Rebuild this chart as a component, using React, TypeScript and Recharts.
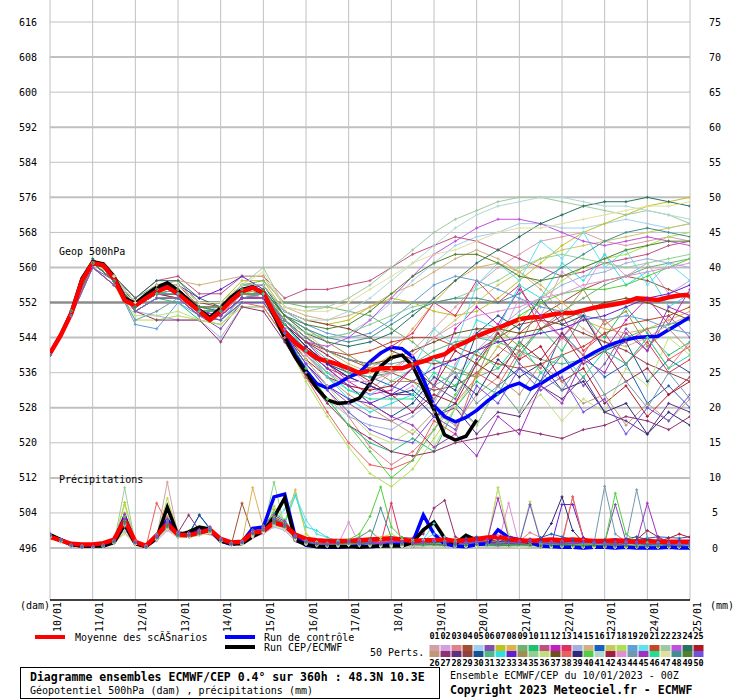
import React from 'react';
import { LineChart, Line, XAxis, YAxis, ReferenceLine } from 'recharts';

const DAY_LABELS = ['10/01','11/01','12/01','13/01','14/01','15/01','16/01','17/01','18/01','19/01','20/01','21/01','22/01','23/01','24/01','25/01'];
const HOUR_TICKS = DAY_LABELS.map((_, i) => i * 24);
const GEOP_TICKS = [496,504,512,520,528,536,544,552,560,568,576,584,592,600,608,616];
const THICK_GEOP = [496,512,528,544,560,576,592,608];
const PRECIP_TICKS = [0,5,10,15,20,25,30,35,40,45,50,55,60,65,70,75];
const MEMBER_NUMS_TOP = ['01','02','03','04','05','06','07','08','09','10','11','12','13','14','15','16','17','18','19','20','21','22','23','24','25'];
const MEMBER_NUMS_BOTTOM = ['26','27','28','29','30','31','32','33','34','35','36','37','38','39','40','41','42','43','44','45','46','47','48','49','50'];
const MEMBER_COLORS = [
  '#d4a0a8','#d0a0e0','#e08088','#a05030','#a0d0f0','#8050b0','#c0c020','#e0b050','#70b070','#20c070',
  '#c05080','#c020c0','#e03060','#a0b0e0','#d0b080','#1860c0','#c8c860','#b0e050','#60a0d8','#60e0f0',
  '#c04828','#a0c8a0','#c050e0','#287060','#b01828','#c09878','#903070','#603080','#904040','#185090',
  '#50b888','#30e0e0','#6020d0','#a09050','#90d090','#c0e080','#705020','#e86060','#302878','#50d040',
  '#b0d8d0','#a02040','#e090d0','#7098b0','#a030c0','#20e090','#e0e0a0','#409090','#508030','#7050e0'
];

// 6-hourly series
const MEAN_GEOP = [540.4,544.5,549.5,557,561,560.5,557.5,552.5,551.3,553,554.5,555.5,554,552,550,548,550,552.5,554.5,555.4,554.2,549.5,545.3,542.8,541,539.3,538.6,537.9,537,535.9,536.5,537,537,537,537.9,538.6,539.5,540.2,542,543,544.3,545.3,546.2,547.2,548.2,548.6,548.7,549.2,549.6,549.6,550.2,550.8,551.2,551.6,552.1,553,552.8,552.6,553.2,553.6,553.8];
const CTRL_GEOP = [540.4,544.6,549.6,557.2,561,560.4,557.5,552.6,551.5,553.3,555,556,554.5,552.3,550.2,548.4,550.5,553,554.8,555.5,554.3,549.5,544.5,540,536.5,533.5,532.5,533.5,535,536,538.5,540.5,541.8,541.5,539.6,534.5,528.5,526,524.8,525.8,527.4,529.5,531.3,532.8,533.6,532.2,533.5,535,536.4,537.8,539.2,540.6,541.8,542.8,543.5,544,544.2,544.3,545.8,547.2,548.7];
const OPER_GEOP = [540.4,544.5,549.8,557.5,561.3,560.8,558,553,551.8,553.8,555.5,556.5,554.8,552.5,550.3,548.6,550.8,553.3,555,555.6,554,549,544,539.5,536,532.5,529.8,529,529.2,530.2,533.5,537.5,539.5,540,537.5,532.5,527.5,521.8,520.6,521.5,525.2];
const MEAN_PRECIP = [1.6,1.1,.6,.5,.5,.7,1.2,4,.9,.3,1.8,3.5,1.9,1.8,2.2,2.6,1.3,.8,.9,2.2,2.4,3.6,3.2,1.9,1.3,1.1,1,1,1,1.1,1.2,1.3,1.4,1.2,1,1.1,1.1,1.2,1,1.1,1.3,1.5,1.6,1.3,1.1,1,1.1,1.2,1.1,1.2,1.1,1,1,1.1,1,.9,1,.9,.9,.9,.9];
const CTRL_PRECIP = [1.7,1.2,.5,.3,.3,.4,1,4.5,.7,.2,1.6,4,2,2,2.8,2.5,1,.5,.8,2.8,3,7.3,7.7,1.5,.4,.2,.1,.1,.2,.3,.2,.3,.5,.5,.8,4.7,2,.6,.3,.2,.5,.6,2.6,1.5,1.2,.8,.3,.2,.1,.1,0,.1,.1,0,.1,0,0,0,.1,0,0];
const OPER_PRECIP = [1.9,1.2,.5,.3,.3,.3,.8,3.3,.6,.2,1.4,5.8,1.8,2.3,3,2.7,1,.6,.6,1.6,2.4,4.4,7.1,1.1,.5,.2,.2,.2,.2,.1,.2,.3,.3,.3,.8,2.6,3.7,1.4,.6,1.8,1.1];

// Members: geopotential every 12 h
const G01 = [540,550,561,558,552,555,555,551,550,555,554,546,540,536,533,532,536,541,546,551,556,560,563,566,567,568,566,565,566,567,566];
const G02 = [540,549,561,557,550,553,553,549,548,553,553,548,544,540,537,533,530,533,529,538,546,543,553,549,559,555,563,558,561,554,557];
const G03 = [540,550,560,556,551,554,553,549,549,554,553,545,538,532,526,519,515,518,523,529,535,542,539,548,544,550,541,538,544,537,543];
const G04 = [540,550,561,557,552,555,556,551,551,555,555,547,543,541,539,537,536,534,532,533,536,540,545,549,552,555,557,558,557,555,553];
const G05 = [540,550,561,558,551,554,554,550,551,556,556,549,546,544,545,548,552,557,561,565,567,568,570,570,569,569,570,571,570,569,570];
const G06 = [540,549,560,557,550,553,553,549,546,552,552,546,539,533,529,526,525,527,533,530,539,545,538,534,540,533,538,546,541,549,544];
const G07 = [540,550,561,558,552,556,556,552,552,557,557,550,548,547,548,551,553,552,550,549,550,553,557,561,565,568,570,572,574,575,576];
const G08 = [540,550,561,557,551,554,555,550,550,554,553,547,542,538,536,537,540,546,552,557,560,561,559,556,552,548,546,545,546,548,550];
const G09 = [540,550,561,558,553,556,557,552,552,556,557,552,551,551,550,549,546,543,539,536,535,537,541,546,550,553,556,558,560,561,562];
const G10 = [540,550,560,556,550,553,552,548,547,552,552,545,537,530,524,520,518,521,518,528,534,531,540,546,541,549,544,551,545,540,543];
const G11 = [540,550,561,558,553,557,558,554,554,558,558,553,555,555,556,557,560,563,565,567,566,564,562,560,558,559,561,562,563,565,566];
const G12 = [540,550,561,557,551,554,554,550,549,553,553,548,543,538,534,531,532,537,533,546,551,547,555,549,544,549,541,548,553,547,555];
const G13 = [540,550,561,557,551,555,555,550,550,555,554,546,541,537,535,538,542,545,552,549,557,552,556,546,549,541,545,538,543,536,539];
const G14 = [540,549,560,556,550,549,548,548,544,551,551,544,536,530,526,524,523,526,530,535,541,546,550,553,556,558,559,561,562,561,560];
const G15 = [540,550,561,558,552,556,557,556,557,558,558,551,549,548,549,551,554,556,559,562,564,562,559,555,550,546,543,542,544,547,549];
const G16 = [540,550,561,557,551,554,554,550,549,553,554,547,542,538,536,535,533,531,526,529,524,533,537,534,545,540,535,538,529,533,528];
const G17 = [540,550,561,557,551,554,554,550,550,554,555,549,545,541,538,536,537,540,544,548,552,556,559,562,564,565,566,567,568,569,570];
const G18 = [540,549,560,556,548,548,549,548,547,551,551,544,534,526,519,513,510,514,521,528,535,542,548,553,557,560,562,563,565,567,568];
const G19 = [540,550,561,557,547,546,552,549,548,553,554,550,547,545,544,545,548,552,556,558,557,555,553,551,550,549,548,549,548,546,545];
const G20 = [540,550,561,557,551,554,554,550,550,555,555,546,540,535,532,531,534,537,546,542,556,561,557,566,562,568,560,564,556,561,557];
const G21 = [540,550,561,557,551,555,555,551,550,554,554,548,544,541,540,541,543,544,544,542,540,538,537,538,540,542,545,547,548,549,551];
const G22 = [540,550,561,558,552,555,556,552,552,556,560,551,550,551,553,556,560,564,568,571,573,575,576,576,575,574,573,572,573,572,570];
const G23 = [540,550,561,557,551,554,555,551,551,555,555,547,543,542,544,548,553,558,563,566,569,571,571,570,568,566,565,566,567,566,565];
const G24 = [540,550,562,558,553,557,557,553,551,556,556,549,545,543,542,543,545,549,553,557,561,564,567,570,572,574,575,575,576,575,574];
const G25 = [540,550,561,557,551,554,553,549,549,553,553,545,539,535,533,532,533,537,533,541,538,545,539,542,534,537,529,533,526,531,534];
const G26 = [540,550,561,557,550,553,553,549,548,552,552,546,540,535,531,528,525,522,527,524,531,535,531,538,534,529,531,524,529,525,530];
const G27 = [540,549,560,556,550,548,548,548,543,551,550,543,535,529,524,521,518,517,518,520,521,522,523,522,521,523,524,526,525,523,526];
const G28 = [540,550,561,557,551,554,554,550,549,553,553,547,542,538,535,533,531,531,526,528,522,527,526,533,530,535,527,525,522,529,527];
const G29 = [540,550,561,558,552,556,556,552,551,555,556,550,548,547,546,544,541,539,538,539,541,544,547,548,547,545,543,541,538,536,534];
const G30 = [540,550,561,557,551,554,554,550,549,553,553,546,541,537,533,529,526,529,535,532,545,549,546,553,547,549,541,543,534,539,536];
const G31 = [540,550,561,557,551,554,555,550,550,554,554,548,543,539,536,535,536,538,541,543,544,543,541,539,538,539,541,544,546,547,548];
const G32 = [540,550,561,557,551,554,554,550,550,554,554,547,541,535,530,527,529,531,539,537,548,546,556,553,561,557,563,556,559,551,554];
const G33 = [540,550,561,557,551,555,556,553,555,558,555,545,538,533,530,529,531,534,537,539,541,543,544,545,546,548,549,551,553,554,556];
const G34 = [540,550,561,557,551,554,554,550,550,554,554,549,546,543,540,537,534,534,530,537,535,546,542,552,549,555,547,550,542,546,541];
const G35 = [540,550,561,557,551,555,555,551,551,555,555,548,545,544,545,547,549,551,552,553,555,557,560,562,563,562,561,560,561,562,563];
const G36 = [540,549,560,556,549,549,550,548,547,552,552,546,539,533,527,522,520,523,519,528,524,533,527,531,525,530,527,537,533,544,540];
const G37 = [540,550,561,557,551,554,554,550,550,554,554,548,544,541,539,538,539,541,543,545,546,546,545,546,548,550,552,553,552,550,548];
const G38 = [540,550,560,556,550,553,553,549,548,552,551,544,535,527,520,515,514,516,525,522,536,533,541,537,544,540,548,543,546,539,542];
const G39 = [540,550,561,557,551,554,554,550,549,553,553,547,542,538,535,533,531,532,528,535,531,539,535,538,532,534,527,529,522,527,524];
const G40 = [540,550,561,557,550,553,553,549,548,552,552,545,537,530,524,518,512,516,523,531,538,544,549,552,554,555,555,556,558,560,562];
const G41 = [540,550,561,558,552,555,556,552,552,556,556,550,548,548,550,553,557,561,565,569,572,574,575,576,576,575,574,574,573,572,571];
const G42 = [540,550,561,557,551,554,554,550,550,554,554,547,543,540,537,534,531,527,531,529,538,535,543,539,545,538,541,534,537,531,535];
const G43 = [540,550,561,557,551,554,554,550,549,553,553,546,540,536,534,534,536,540,544,547,549,550,551,553,554,556,557,558,559,560,561];
const G44 = [540,550,561,557,548,550,553,549,549,553,554,548,544,541,539,538,538,539,533,536,529,533,527,536,532,539,531,534,528,536,530];
const G45 = [540,550,561,557,551,554,554,550,549,553,553,546,541,537,533,529,526,524,519,522,517,526,522,533,529,539,536,545,541,551,549];
const G46 = [540,550,561,557,551,554,554,550,550,554,554,547,541,536,532,530,530,530,536,533,541,537,543,536,540,535,541,538,544,537,540];
const G47 = [540,550,561,558,552,556,556,552,552,556,559,551,550,550,552,555,558,561,563,564,566,568,569,569,570,571,572,573,574,574,575];
const G48 = [540,550,561,557,551,555,555,551,550,555,555,549,546,544,543,544,547,550,552,553,553,552,554,557,560,563,566,568,569,568,567];
const G49 = [540,550,561,557,551,555,555,551,551,555,555,549,547,546,547,550,554,558,561,563,563,561,558,557,558,560,562,564,565,566,566];
const G50 = [540,549,560,556,550,553,553,549,548,552,552,545,538,532,527,523,521,520,526,523,533,529,537,532,535,527,530,522,528,525,531];

// Members: precipitation every 6 h
const P01 = [2,1.2,.4,.2,.2,.3,.9,3.5,.7,.2,1.5,9.4,1.8,1.5,2,2.4,1,.5,.8,2,2.5,3.5,3,1.5,.8,.5,.4,.6,1,.8,.5,.3,.4,.6,.5,.3,.2,.3,.5,.4,.6,.8,.5,.3,.2,.2,.4,.6,.3,.2,.2,.3,.2,.1,.2,.3,.2,.1,.1,.2,.2];
const P02 = [1.8,1,.3,.2,.1,.3,.8,4.5,.6,.1,1,2.5,1.5,2,2.5,3,1.2,.6,.5,1.5,2,3,2.5,1,.5,.3,.2,.3,.5,1.5,2.5,1.2,.5,.3,.2,.5,1,.6,.3,.2,.2,.5,1.8,.8,.3,.2,.1,.3,.5,.2,.1,.1,.2,.4,.6,.3,.2,.2,.1,.1,.1];
const P03 = [2,1.1,.5,.3,.2,.4,1,5,.9,.3,2,4.5,2.2,1.8,2.2,2.5,1.1,.7,1,2.5,3,4,3.5,1.5,.7,.4,.3,.5,.8,1.2,1,.6,.4,.3,.5,1,.8,.5,.4,.3,.5,.8,.6,.4,1,2.2,1.5,.7,.6,7.3,1.5,.5,.3,.4,.3,.5,.8,.4,.3,.2,.3];
const P04 = [1.6,1,.3,.2,.2,.3,.7,3,.5,.1,1.2,3,1.5,1.5,2,2,1,.5,6.4,2,2.5,3.5,3,1.5,.8,.5,.4,.3,.5,.8,1,.6,.4,.3,.2,.2,.3,.4,.3,.2,.3,.5,.4,.3,.4,.3,.2,.4,.5,.3,.2,.3,.2,.2,.1,.2,.3,.2,.2,.1,.2];
const P05 = [1.5,.9,.3,.2,.2,.3,.8,2.5,.6,.2,1.4,2.6,1.6,1.6,1.8,2.2,1,.4,.5,1.6,2.2,3,2.6,1.2,.6,.4,.3,.3,.4,.5,.4,.3,.2,.3,.4,.3,.2,.2,.3,.2,.2,.3,.4,.3,.2,.2,.3,.2,.2,.3,.2,.1,.2,.2,.1,.1,.2,.1,.1,.1,.1];
const P06 = [1.9,1.2,.4,.2,.2,.4,1,4.2,.8,.2,1.6,3.8,2,2,2.5,2.8,1.3,.6,.7,2.2,2.8,4,3.2,1.6,.9,.6,.5,.8,1.2,1,.8,.6,.9,1.5,1,.8,.6,1,.7,.5,.8,1,.7,.5,.6,.8,.6,.5,1,.8,.6,.5,.8,6.2,1,.5,.4,.3,.5,.4,.3];
const P07 = [1.7,1,.3,.2,.2,.3,.8,6.5,.8,.2,1.3,3.2,1.8,1.6,2,2.3,1,.5,.6,1.8,2.4,5.5,3,1.4,.7,.5,.3,.4,.6,.8,.5,.4,.3,.5,.6,.4,.3,.2,.3,.4,.6,1.2,.8,.5,.3,.4,.5,.3,.2,.3,.4,.5,.3,.2,.3,.2,.3,.2,.2,.2,.2];
const P08 = [1.8,1.1,.4,.2,.2,.3,.9,3.8,.7,.2,1.5,3.4,1.9,1.8,2.2,2.6,1.2,.6,.8,8.6,3,4.5,3.5,8.3,2,.8,.5,.4,.6,.5,.4,.6,.8,.5,.3,.4,.6,.5,.3,.2,.3,.4,.5,.3,.2,.4,.5,.3,.2,.1,.2,.3,.2,.1,.2,.2,.1,.1,.2,.1,.1];
const P09 = [1.6,1,.3,.2,.2,.3,.8,3.4,.6,.2,1.4,3,1.7,1.7,2,2.4,1,.5,.7,2,2.6,3.6,3,1.4,.8,.5,.4,.6,1,1.6,2.5,1,.5,.4,.5,.6,.4,.3,.5,.4,.3,.2,.3,.5,.4,.3,.2,.3,.4,.3,.2,.2,.3,.2,.2,.2,.1,.2,.2,.1,.2];
const P10 = [2.1,1.3,.5,.3,.2,.4,1.1,4.8,.9,.3,2,4.2,2.3,2.2,2.6,3,1.4,.7,.9,2.6,3.2,5,4,1.8,1,.6,.5,.7,.9,.7,.5,.4,.3,.2,.3,.4,.5,.4,.3,.2,.3,.4,.3,.2,.3,.2,.2,.3,.2,.2,.1,.2,.1,.1,.2,.1,.1,.1,.1,.1,.1];
const P11 = [1.7,1,.4,.2,.2,.3,.9,3.6,.7,.2,1.5,3.1,1.8,1.7,2.1,2.5,1.1,.6,.8,2.1,2.7,3.8,3.2,1.6,.9,.6,.5,.4,.5,.6,.4,.3,.4,.3,.2,.3,.4,.3,.2,.3,.4,.3,.2,.3,.4,.3,.2,.2,.3,.2,.2,.3,.2,.1,.2,.2,.2,.1,.1,.2,.2];
const P12 = [1.9,1.1,.4,.2,.2,.4,1,4,.8,.2,1.6,3.5,2,1.9,2.3,2.6,1.2,.6,.8,2.2,2.8,4.2,3.4,1.7,.9,.5,.4,.6,.8,1,.7,.5,.4,.6,.8,1.2,.9,.6,.5,.4,.6,.5,.7,.4,.3,.5,.4,.3,.5,.6,.4,.3,.5,.4,.6,.5,.4,.3,.3,.2,.3];
const P13 = [1.6,1,.3,.2,.2,.3,.8,3.3,.6,.2,1.3,2.9,1.6,1.6,2,2.3,1,.5,.6,1.9,2.5,3.4,2.9,1.3,.7,.4,.3,.4,.6,.5,.4,.6,6.4,.5,.4,.3,.5,.4,.3,.2,.3,.4,.3,.5,.4,.3,.2,.3,.4,.3,.3,.2,.2,.3,.2,.2,.1,.2,.2,.1,.1];
const P14 = [1.8,1.1,.4,.2,.2,.4,.9,3.9,.8,.2,1.5,3.3,1.9,1.8,2.2,2.5,1.1,.6,.8,2.1,2.7,3.9,3.3,1.6,.9,.6,.5,.6,.8,.7,.6,.5,.6,.4,.5,.4,.3,.4,.5,.4,.3,.4,.3,.4,.5,.4,.3,.4,.3,.2,.3,.2,.3,.2,.2,.3,.2,.2,.1,.2,.2];
const P15 = [1.5,.9,.3,.2,.1,.3,.7,2.2,.5,.2,1.2,2.7,1.5,1.5,1.9,2.1,.9,.4,.6,1.7,2.2,3.2,2.8,1.2,.6,.4,.3,.5,.7,.6,.4,.3,.5,.4,.3,.4,.3,.2,.4,.5,.4,.3,.2,.3,.2,.3,.2,.2,.3,.2,.2,.1,.2,.2,.1,.2,.1,.1,.1,.1,.1];
const P16 = [1.9,1.2,.4,.2,.2,.4,1,4.3,.8,.2,1.7,3.7,2.1,2,4.7,2.8,1.3,.7,.9,2.3,2.9,4.3,3.5,1.7,1,.6,.5,.7,1,.9,.8,.6,.5,.7,.9,.7,.6,.8,1,1.4,1.6,1.2,.9,.7,.6,.8,1.5,2,1.6,1.2,.8,.6,.5,.7,.9,1.2,1.4,1.6,1.5,1.4,1.6];
const P17 = [1.7,1,.3,.2,.2,.3,.8,3.6,.7,.2,1.4,3,1.7,1.7,2,2.4,1,.5,.7,2,2.5,3.6,3,1.4,.8,.5,.4,.5,.7,.6,.5,.4,.3,.4,.5,.4,.3,.4,.3,.4,.5,.4,.3,.2,.3,.4,.3,.2,.3,.2,.2,.2,.1,.2,.2,.1,.2,.1,.1,.1,.1];
const P18 = [2,1.2,.4,.2,.2,.4,1,6.2,1,.3,1.8,7.1,2.2,2.1,2.5,2.9,1.3,.7,.9,2.4,3,6,3.8,7.8,2,.9,.7,1,1.3,1.1,1,1.5,2,1.2,.8,.6,.5,.7,.9,.6,.5,.7,8.6,1.5,.8,6.6,1,.6,.5,.4,.6,.5,.4,.3,.5,.4,.3,.2,.3,.2,.3];
const P19 = [1.6,.9,.3,.2,.2,.3,.8,3.2,.6,.2,1.3,2.8,1.6,1.5,1.9,2.2,1,.5,.6,1.8,2.4,3.3,2.8,1.3,.7,.4,.3,.4,.6,.5,.4,.3,.4,.5,.4,.3,.4,.3,.2,.3,.2,.3,.4,.3,.2,.3,.4,.3,.2,.2,.3,.2,.2,.3,.2,.2,.2,.1,.2,.1,.2];
const P20 = [1.8,1.1,.4,.2,.2,.4,.9,3.8,.7,.2,1.5,3.2,1.9,1.8,2.2,2.5,1.1,.6,.8,2.1,2.7,3.8,5.5,7.5,4,2,1.5,1,.8,.7,.6,.5,.7,.9,1.2,1.1,2,1.6,.8,.6,.5,.6,.5,.4,.3,.4,.6,.4,.3,.2,.3,.2,.3,.2,.2,.3,.2,.1,.2,.1,.1];
const P21 = [1.7,1,.3,.2,.2,.3,.8,3.5,.6,.2,1.4,3,1.7,1.6,2,2.3,1,.5,.7,2,2.5,3.5,3,1.5,.8,.5,.4,.5,.6,.5,.4,.3,.5,.4,.3,.5,.4,.3,.4,.3,.4,.5,.4,.3,.5,.4,.3,.4,.3,.5,.4,.5,.6,.4,.3,.5,.7,1.2,.8,.6,.5];
const P22 = [1.6,1,.3,.2,.2,.3,.7,8.6,.6,.2,1.3,2.8,1.6,1.6,1.9,2.2,1,.5,.6,1.8,2.3,3.3,2.8,1.3,.6,.4,.3,.3,.4,.5,.4,.3,.2,.3,.2,.3,.4,.3,.2,.2,.3,.2,.2,.3,.2,.2,.3,.2,.2,.2,.1,.2,.1,.1,.1,.2,.1,.1,.1,.1,.1];
const P23 = [1.8,1.1,.4,.2,.2,.4,.9,3.9,.8,.2,1.5,3.4,2,1.8,2.3,2.6,1.2,.6,.8,2.2,2.7,4,3.3,1.6,.9,.6,.5,.6,.7,.6,.5,.4,.5,.6,.5,.4,.3,.4,.5,.4,.3,.4,.5,.4,.3,.2,.3,.4,.3,.2,.2,.3,.2,.2,.2,.1,.2,.2,.1,.1,.1];
const P24 = [1.7,1,.3,.2,.2,.3,.8,3.4,.7,.2,1.4,3.1,1.8,1.7,2.1,2.4,1,.5,.7,2,2.5,3.6,3.1,1.5,.8,.5,.4,.5,.6,.7,.9,.6,.5,.4,.3,.4,.5,.6,.4,.3,.4,.5,.4,.3,.2,.3,.4,.3,.2,.3,.5,.7,1,.6,.4,.3,.2,.3,.2,.2,.2];
const P25 = [1.9,1.2,.4,.2,.2,.4,1,4.1,.8,.2,1.6,3.6,2,1.9,2.4,2.7,1.2,.6,.8,2.2,2.8,4.1,3.4,1.7,.9,.6,.5,.7,.9,.8,.7,.6,.8,1.1,.9,.7,.6,.8,.7,.6,.9,1.2,.8,.6,.7,.9,.7,.6,.8,.7,.6,.9,1.2,.8,.6,.5,.7,.9,1.4,2,1.5];
const P26 = [1.6,1,.3,.2,.2,.3,.8,3.3,.6,.2,1.3,2.9,1.7,1.6,1.9,2.3,1,.5,.6,1.9,2.4,3.4,2.9,1.4,.7,.4,.3,.5,.7,.9,1.1,.8,.6,.7,.9,1.2,.9,.7,.6,.8,.9,.7,.6,.8,.7,.6,.5,.7,.6,.5,.6,.7,.5,.4,.6,.5,.4,.3,.5,.4,.3];
const P27 = [2,1.2,.5,.3,.2,.4,1,4.6,.9,.3,1.8,3.9,2.2,4.7,2.5,2.9,1.3,.7,.9,2.4,3,4.4,3.6,1.8,1,.7,.6,.8,1.1,1.3,1,.8,1.2,1.5,1.4,2,5.7,6.8,1.6,.9,1.1,.9,1.2,.9,.8,1.1,.9,.8,1,.9,.7,.8,1,.9,.8,.7,.9,.8,.7,.6,.7];
const P28 = [1.8,1.1,.4,.2,.2,.4,.9,3.9,.7,.2,1.5,3.3,1.9,1.8,2.2,2.6,1.2,.6,.8,2.1,2.7,3.9,3.3,1.6,.9,.6,.5,.7,.9,.8,.7,.6,.8,.9,.7,.9,1.1,.8,.7,.9,1.2,.9,.7,.8,1,1.3,1.1,.9,.8,1,.9,.8,1,1.2,.9,.8,.7,.9,.8,.7,.8];
const P29 = [1.7,1.1,.4,.2,.2,.3,.9,3.7,.7,.2,1.5,3.2,1.8,1.7,2.1,2.5,1.1,.6,.7,2,2.6,3.7,3.1,1.5,.8,.5,.4,.6,.8,.7,.6,.5,.6,.7,.6,.5,.4,.6,.5,.4,.5,.6,.5,.4,.5,.4,.3,.4,.5,.4,.3,.4,.3,.4,.3,.2,.3,.4,.3,.2,.3];
const P30 = [1.9,1.2,.4,.2,.2,.4,1,4.4,.8,.2,1.6,3.6,2.1,1.9,4.7,2.7,1.2,.6,.8,2.3,2.9,4.2,3.5,1.7,1,.6,.5,.7,1,.9,.8,.7,.9,1.1,.8,.7,.9,.8,.6,.7,.8,.7,.9,1,.8,.7,.6,.8,.7,.9,1.2,1,.8,.9,1.3,1.6,1.2,1,.9,1.1,1];
const P31 = [1.7,1,.3,.2,.2,.3,.8,3.5,.7,.2,1.4,3.1,1.8,1.7,2.1,2.4,1.1,.5,.7,2,2.6,3.6,3.1,1.5,.8,.5,.4,.5,.7,.6,.5,.6,.5,.4,.6,.5,.4,.5,.6,.5,.4,.5,.4,.3,.4,.5,.4,.3,.4,.3,.3,.4,.3,.2,.3,.2,.3,.2,.2,.2,.2];
const P32 = [1.8,1.1,.4,.2,.2,.4,.9,3.8,.8,.2,1.5,3.4,1.9,1.8,2.2,2.6,1.2,.6,.8,2.2,2.8,4,3.4,7.5,3,2.5,1.5,1,.8,.7,.6,.5,.7,.6,.5,1.2,3.5,1,.6,.5,.4,.5,.6,.4,.3,.4,.3,.4,.3,.2,.3,.2,.3,.2,.2,.2,.1,.2,.2,.1,.1];
const P33 = [1.9,1.2,.4,.2,.2,.4,1,4.2,.8,.2,1.6,3.5,2,1.9,2.3,2.7,1.2,.6,.8,2.2,2.8,4.1,3.4,1.7,.9,.6,.5,.7,.9,.8,.7,.6,.7,.8,.6,.7,.8,.6,.5,.6,.7,.8,.6,.5,.6,.7,.6,.5,6.2,6.2,1.5,.8,.6,.5,.4,.5,.4,.3,.4,.3,.3];
const P34 = [1.6,1,.3,.2,.2,.3,.8,3.3,.6,.2,1.3,2.9,1.6,1.6,2,2.3,1,.5,.6,1.9,2.4,3.4,2.9,1.4,.7,.4,.3,.4,.6,.5,.4,.5,.4,.3,.4,.3,.4,.3,.2,.3,.4,.3,.4,.3,.2,.3,.4,.3,.2,.3,.2,.3,.2,.2,.1,.2,.2,.1,.2,.1,.1];
const P35 = [1.7,1,.3,.2,.2,.3,.8,3.4,.7,.2,1.4,3,1.7,1.7,2,2.4,1,.5,.7,2,2.5,9.4,3,1.4,.8,.5,.4,.5,.6,.5,.4,.3,.4,.5,.4,.3,.4,.3,.4,.3,.2,.3,.4,.3,.2,.3,.2,.3,.2,.2,.2,.3,.2,.1,.2,.2,.1,.1,.2,.1,.1];
const P36 = [2,1.2,.5,.3,.2,.4,1,4.7,.9,.3,1.8,4,2.2,2.1,2.5,2.9,1.3,.7,.9,2.4,3,4.6,3.7,1.8,1,.7,.6,.8,1.1,.9,.8,.7,.9,1.2,.9,.8,1,.9,.8,.7,.9,1.1,8.6,2,.9,.8,.7,.9,.8,.7,.6,.8,.7,.6,.5,.6,.5,.4,.5,.4,.4];
const P37 = [1.8,1.1,.4,.2,.2,.4,.9,3.9,.8,.2,1.5,3.3,1.9,1.8,2.2,2.6,1.1,.6,.8,2.1,2.7,3.9,3.3,1.6,.9,.5,.4,.6,.8,.7,.6,.5,.6,.7,.6,.5,.6,.5,.4,.5,.6,.5,.4,.5,.6,.5,.4,.3,.4,.5,.4,.3,.4,.3,.2,.3,.2,.3,.2,.2,.2];
const P38 = [1.9,1.2,.4,.2,.2,.4,1,4.3,.8,.2,6.4,3.6,2,1.9,2.4,2.7,1.2,.6,.8,2.2,2.8,4.2,3.5,1.7,1,.6,.5,.7,1,1.2,.9,.8,1,.9,.8,1,1.2,.9,.7,.8,.9,1,.8,.7,.9,1.1,.9,.8,1,7.3,1.2,.8,.7,.9,.8,.7,.6,.8,.7,.6,.7];
const P39 = [1.8,1.1,.4,.2,.2,.4,.9,3.8,.7,.2,1.5,3.3,1.9,1.8,2.2,2.5,1.1,.6,.8,2.1,2.7,3.9,3.3,1.6,.9,.6,.5,.6,.8,.7,.6,.5,.7,.8,.6,.5,.7,.6,.5,.7,.6,.8,.7,.6,.8,.9,1.1,3.5,7.3,2.5,.8,.7,.6,.5,.6,.7,.5,.4,.5,.4,.5];
const P40 = [1.9,1.2,.4,.2,.2,.4,1,4.4,.8,.2,1.6,3.7,2.1,2,2.4,2.8,1.2,.6,.8,2.3,2.9,4.3,3.5,1.7,1,.7,.6,.8,1.2,2,4.5,8.7,3,1.5,1,.8,.7,.9,1.1,.8,.7,.9,.8,.7,.9,.8,.7,.8,.9,.7,.6,.8,.7,7.8,2,.9,.8,.7,.8,.6,.7];
const P41 = [1.6,1,.3,.2,.2,.3,.7,3.2,.6,.2,1.3,2.8,1.6,1.5,1.9,2.2,1,.5,.6,1.8,2.3,3.3,2.8,1.3,.7,.4,.3,.4,.5,.4,.3,.4,.3,.2,.3,.4,.3,.2,.3,.2,.3,.2,.2,.3,.2,.2,.3,.2,.2,.1,.2,.1,.2,.1,.1,.2,.1,.1,.1,.1,.1];
const P42 = [1.8,1.1,.4,.2,.2,.4,.9,3.9,.8,.2,1.5,3.3,1.9,1.8,2.2,2.6,1.2,.6,.8,2.2,2.7,3.9,3.3,1.6,.9,.6,.5,.7,.9,.8,.7,.6,.8,.9,.7,.6,.8,.7,.6,.7,.8,.9,.7,.6,.8,.7,.6,.7,.8,.6,.7,.8,.7,.6,.9,1.2,2.5,1.6,.8,.7,.6];
const P43 = [1.7,1,.3,.2,.2,.3,.8,3.6,.7,.2,1.4,3.1,1.8,1.7,2.1,2.4,1.1,.5,.7,2,2.6,3.6,3.1,1.5,.8,.5,.4,.5,3.7,.6,.5,.6,.5,.4,.5,.6,.5,.4,.5,.4,.5,.4,.6,6.4,.4,.3,.4,.5,.4,.3,.4,.3,.4,.3,.2,.3,.2,.3,.2,.2,.2];
const P44 = [1.6,1,.3,.2,.2,.3,.8,3.3,.6,.2,1.3,2.9,1.6,1.6,2,2.3,1,.5,.6,1.9,2.4,3.4,2.9,1.4,.7,.4,.3,.4,.6,.5,.4,.5,.6,.5,.4,.5,.6,.5,.4,.5,.6,.5,.4,.5,.6,.5,.4,.5,.4,.5,.6,.7,8.8,2,.9,8.3,1.5,.8,.7,.6,.5];
const P45 = [2,1.2,.5,.3,.2,.4,1,4.8,.9,.3,1.8,4.1,2.3,2.2,2.6,3,1.3,.7,.9,2.5,3.1,4.7,3.8,1.8,1,.7,.6,.8,1.1,1,.8,.7,.9,1,.8,.9,1.1,.9,.8,.9,1,1.2,7.1,1.5,.9,1,.8,.9,1,.8,.9,1,.8,.9,1.1,.9,6.4,1.4,.9,.8,.9];
const P46 = [1.8,1.1,.4,.2,.2,.4,.9,3.9,.7,.2,1.5,3.4,1.9,1.8,2.2,2.6,1.2,.6,.8,2.2,2.7,4,3.3,1.6,.9,.6,.5,.6,.8,.7,.6,.5,.6,.7,.6,.5,.6,.7,.6,.5,.6,.5,.6,.5,.4,.5,.6,.5,.4,.5,.4,.5,.6,.5,.4,.3,.4,.3,.3,.2,.3];
const P47 = [1.6,.9,.3,.2,.1,.3,.7,2,.5,.2,1.2,2.7,1.5,1.5,1.8,2.1,.9,.4,.5,1.7,2.2,3.2,2.7,1.2,.6,.4,.3,.3,.4,.3,.3,.2,.3,.2,.3,.2,.2,.3,.2,.2,.2,.3,.2,.2,.1,.2,.2,.1,.2,.1,.1,.1,.2,.1,.1,.1,.1,.1,.1,.1,.1];
const P48 = [1.7,1,.3,.2,.2,.3,.8,3.5,.7,.2,1.4,3,1.7,1.7,2,2.4,1,.5,.7,2,2.5,3.5,3,1.5,.8,.5,.4,.5,.6,.5,1.2,5.7,1.5,.6,.5,.4,.5,.4,.3,.4,.5,.4,.3,.4,.5,.4,.3,.4,.3,.4,.3,.4,.3,.2,.3,.2,.2,.3,.2,.2,.2];
const P49 = [1.8,1.1,.4,.2,.2,.4,.9,3.7,.7,.2,1.5,3.2,1.8,1.8,2.1,2.5,1.1,.6,.8,2.1,2.6,3.7,3.1,1.5,.8,.5,.4,.6,.8,.7,.6,.5,.7,.6,.5,.6,.5,.4,.5,.4,.5,.6,.5,.4,.5,.4,.3,.4,.5,.4,.3,.4,.3,.4,.3,.2,.3,.2,.3,.2,.2];
const P50 = [1.9,1.2,.4,.2,.2,.4,1,4.1,.8,.2,1.6,3.6,2,1.9,2.3,2.7,1.2,.6,.8,2.2,2.8,4.1,3.4,1.7,.9,.6,.5,.7,.9,.8,.7,.6,.8,.7,.6,.8,.9,.7,.6,.7,.8,.7,.6,.8,.7,6.2,.9,.7,.6,.7,.8,.7,.6,.5,.6,.7,.5,.6,.5,.4,.5];

const GEOP_MEMBERS = [G01,G02,G03,G04,G05,G06,G07,G08,G09,G10,G11,G12,G13,G14,G15,G16,G17,G18,G19,G20,G21,G22,G23,G24,G25,G26,G27,G28,G29,G30,G31,G32,G33,G34,G35,G36,G37,G38,G39,G40,G41,G42,G43,G44,G45,G46,G47,G48,G49,G50];
const PRECIP_MEMBERS = [P01,P02,P03,P04,P05,P06,P07,P08,P09,P10,P11,P12,P13,P14,P15,P16,P17,P18,P19,P20,P21,P22,P23,P24,P25,P26,P27,P28,P29,P30,P31,P32,P33,P34,P35,P36,P37,P38,P39,P40,P41,P42,P43,P44,P45,P46,P47,P48,P49,P50];

const toSeries = (arr: number[], step: number) => arr.map((v, i) => ({ h: i * step, v }));

const FONT = '"DejaVu Sans Mono", "Liberation Mono", monospace';

const makeDot = (color: string) => (p: any) => {
  const { cx, cy, index } = p;
  if (cx == null || cy == null || isNaN(cx) || isNaN(cy)) return <g key={`e${index}`} />;
  return <path key={`d${index}`} d={`M${cx - 1.5},${cy}h3M${cx},${cy - 1.5}v3`} stroke={color} strokeWidth={1} fill="none" />;
};

const LeftTick = (p: any) => (
  <text x={37} y={p.y + 3.5} textAnchor="end" fontFamily={FONT} fontSize={10} fill="#000">{p.payload.value}</text>
);
const RightTick = (p: any) => (
  <text x={715} y={p.y + 3.5} textAnchor="middle" fontFamily={FONT} fontSize={10} fill="#000">{p.payload.value}</text>
);
const XTick = (p: any) => {
  const idx = Math.round(p.payload.value / 24);
  return (
    <text transform={`translate(${p.x + 7},602) rotate(-90)`} textAnchor="end" dominantBaseline="central" fontFamily={FONT} fontSize={10} fill="#000">
      {DAY_LABELS[idx]}
    </text>
  );
};

export default function App() {
  return (
    <div style={{ position: 'absolute', left: 0, top: 0, width: 740, height: 700, background: '#fff', overflow: 'hidden' }}>
      <LineChart width={740} height={640} margin={{ top: 0, right: 0, bottom: 0, left: 0 }}>
        <XAxis dataKey="h" type="number" domain={[0, 360]} ticks={HOUR_TICKS} interval={0} allowDataOverflow
          tickLine={false} axisLine={{ stroke: '#000', strokeWidth: 1.5 }} height={40} tick={XTick} />
        <YAxis yAxisId="g" orientation="left" type="number" width={50} domain={[484.14, 621.02]} ticks={GEOP_TICKS}
          interval={0} allowDataOverflow axisLine={false} tickLine={false} tick={LeftTick} />
        <YAxis yAxisId="p" orientation="right" type="number" width={50} domain={[-7.41, 78.14]} ticks={PRECIP_TICKS}
          interval={0} allowDataOverflow axisLine={false} tickLine={false} tick={RightTick} />

        {HOUR_TICKS.map((h) => (
          <ReferenceLine key={`vx${h}`} yAxisId="g" x={h} stroke="#c0c0c0" strokeWidth={1} />
        ))}
        {GEOP_TICKS.filter((t) => t !== 552).map((t) => (
          <ReferenceLine key={`hy${t}`} yAxisId="g" y={t} stroke="#c0c0c0" strokeWidth={THICK_GEOP.includes(t) ? 2 : 1} />
        ))}
        <ReferenceLine yAxisId="g" y={552} stroke="#8c8c8c" strokeWidth={2.5} />

        {GEOP_MEMBERS.map((arr, i) => (
          <Line key={`g${i}`} yAxisId="g" data={toSeries(arr, 12)} dataKey="v" type="linear" stroke={MEMBER_COLORS[i]}
            strokeWidth={1} dot={makeDot(MEMBER_COLORS[i])} activeDot={false} isAnimationActive={false} />
        ))}
        {PRECIP_MEMBERS.map((arr, i) => (
          <Line key={`p${i}`} yAxisId="p" data={toSeries(arr, 6)} dataKey="v" type="linear" stroke={MEMBER_COLORS[i]}
            strokeWidth={1} dot={makeDot(MEMBER_COLORS[i])} activeDot={false} isAnimationActive={false} />
        ))}

        <Line yAxisId="g" data={toSeries(CTRL_GEOP, 6)} dataKey="v" type="linear" stroke="#0000ff" strokeWidth={3.5} dot={false} activeDot={false} isAnimationActive={false} />
        <Line yAxisId="p" data={toSeries(CTRL_PRECIP, 6)} dataKey="v" type="linear" stroke="#0000ff" strokeWidth={3.5} dot={false} activeDot={false} isAnimationActive={false} />
        <Line yAxisId="g" data={toSeries(OPER_GEOP, 6)} dataKey="v" type="linear" stroke="#000000" strokeWidth={3.5} dot={false} activeDot={false} isAnimationActive={false} />
        <Line yAxisId="p" data={toSeries(OPER_PRECIP, 6)} dataKey="v" type="linear" stroke="#000000" strokeWidth={3.5} dot={false} activeDot={false} isAnimationActive={false} />
        <Line yAxisId="g" data={toSeries(MEAN_GEOP, 6)} dataKey="v" type="linear" stroke="#ff0000" strokeWidth={4.5} dot={false} activeDot={false} isAnimationActive={false} />
        <Line yAxisId="p" data={toSeries(MEAN_PRECIP, 6)} dataKey="v" type="linear" stroke="#ff0000" strokeWidth={4.5} dot={false} activeDot={false} isAnimationActive={false} />
      </LineChart>

      <svg width={740} height={700} style={{ position: 'absolute', left: 0, top: 0, pointerEvents: 'none' }}>
        <g fontFamily={FONT} fontSize={10} fill="#000">
          <text x={59} y={254.5}>Geop 500hPa</text>
          <text x={59} y={483}>Précipitations</text>
          <text x={20} y={609}>(dam)</text>
          <text x={710} y={609}>(mm)</text>

          <rect x={35} y={635} width={30} height={4} fill="#ff0000" />
          <text x={75} y={640.5}>Moyenne des scĂŠnarios</text>
          <rect x={225} y={635} width={30} height={4} fill="#0000ff" />
          <text x={264} y={640.5}>Run de contrôle</text>
          <rect x={225} y={645} width={30} height={4} fill="#000000" />
          <text x={264} y={650.5}>Run CEP/ECMWF</text>
          <text x={370} y={656}>50 Perts.</text>
        </g>
        <g fontFamily={FONT} fontSize={8.5} fontWeight="bold" fill="#000" textAnchor="middle">
          {MEMBER_NUMS_TOP.map((n, i) => (
            <text key={`nt${n}`} x={434.5 + i * 11} y={638.5}>{n}</text>
          ))}
          {MEMBER_NUMS_BOTTOM.map((n, i) => (
            <text key={`nb${n}`} x={434.5 + i * 11} y={665.5}>{n}</text>
          ))}
        </g>
        {MEMBER_COLORS.map((c, i) => (
          <rect key={`sw${i}`} x={429.5 + (i % 25) * 11} y={i < 25 ? 645 : 651} width={10} height={6} fill={c} />
        ))}

        <rect x={20.5} y={667.5} width={419} height={31} fill="none" stroke="#000" strokeWidth={1} />
        <text x={30} y={681} fontFamily={FONT} fontSize={11.5} fontWeight="bold" fill="#000">Diagramme ensembles ECMWF/CEP 0.4° sur 360h : 48.3N 10.3E</text>
        <text x={30} y={694} fontFamily={FONT} fontSize={10} fill="#000">Géopotentiel 500hPa (dam) , précipitations (mm)</text>
        <text x={450} y={679} fontFamily={FONT} fontSize={10} fill="#000">Ensemble ECMWF/CEP du 10/01/2023 - 00Z</text>
        <text x={450} y={694} fontFamily={FONT} fontSize={11.5} fontWeight="bold" fill="#000">Copyright 2023 Meteociel.fr - ECMWF</text>
      </svg>
    </div>
  );
}
